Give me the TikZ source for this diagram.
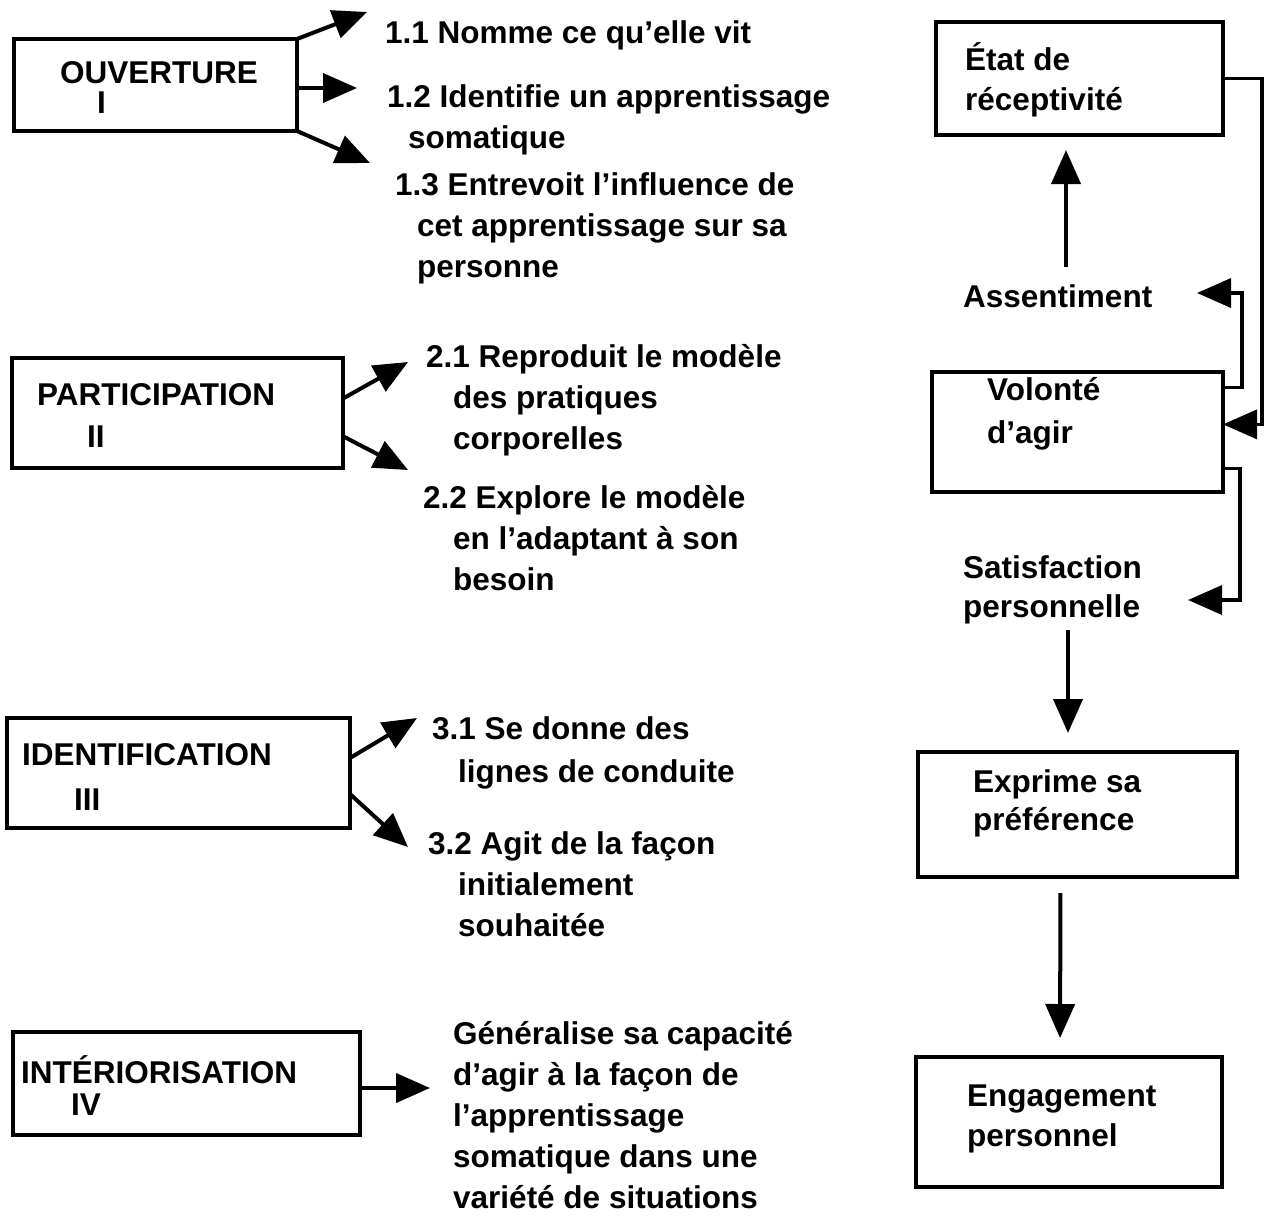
\documentclass[tikz,border=0pt]{standalone}
\usepackage{fontspec}
\setmainfont{Liberation Sans}
\usetikzlibrary{arrows.meta}
\begin{document}
\begin{tikzpicture}[x=1pt,y=-1pt,
  box/.style={draw, line width=4pt, inner sep=0pt, outer sep=0pt},
  txt/.style={font=\bfseries\fontsize{31.5}{41}\selectfont, inner sep=0pt, align=left, anchor=base west},
  rtxt/.style={font=\bfseries\fontsize{31.5}{40}\selectfont, inner sep=0pt, align=left, anchor=base west},
  arr/.style={line width=4pt, -{Triangle[length=34pt,width=29pt]}},
  loopline/.style={line width=3.5pt, -{Triangle[length=34pt,width=29pt]}}]
\useasboundingbox (0,0) rectangle (1272,1229);

% ---------- left column boxes ----------
\node[box, minimum width=283pt, minimum height=92pt] (ouv) at (155.5,85) {};
\node[txt] (ouvt) at (60,83) {OUVERTURE};
\node[txt] (ouvn) at (97,113) {I};

\node[box, minimum width=331pt, minimum height=110pt] (par) at (177.5,413) {};
\node[txt] (part) at (37,405) {PARTICIPATION};
\node[txt] (parn) at (87,447) {II};

\node[box, minimum width=343pt, minimum height=110pt] (idn) at (178.5,773) {};
\node[txt] (idnt) at (22,765) {IDENTIFICATION};
\node[txt] (idnn) at (74,810) {III};

\node[box, minimum width=347pt, minimum height=103pt] (int) at (186.5,1083.5) {};
\node[txt] (intt) at (21,1083) {INTÉRIORISATION};
\node[txt] (intn) at (71,1115) {IV};

% ---------- left column texts (anchor = baseline of the last line) ----------
\node[txt] (t11) at (385,43) {1.1 Nomme ce qu’elle vit};
\node[txt] (t12) at (387,148) {1.2 Identifie un apprentissage\\\hspace*{21pt}somatique};
\node[txt] (t13) at (395,277) {1.3 Entrevoit l’influence de\\\hspace*{22pt}cet apprentissage sur sa\\\hspace*{22pt}personne};

\node[txt] (t21) at (426,449) {2.1 Reproduit le modèle\\\hspace*{27pt}des pratiques\\\hspace*{27pt}corporelles};
\node[txt] (t22) at (423,590) {2.2 Explore le modèle\\\hspace*{30pt}en l’adaptant à son\\\hspace*{30pt}besoin};

\node[txt, font=\bfseries\fontsize{31.5}{43}\selectfont] (t31) at (432,782) {3.1 Se donne des\\\hspace*{26pt}lignes de conduite};
\node[txt] (t32) at (428,936) {3.2 Agit de la façon\\\hspace*{30pt}initialement\\\hspace*{30pt}souhaitée};

\node[txt, font=\bfseries\fontsize{31.5}{41}\selectfont] (t4) at (453,1208) {Généralise sa capacité\\d’agir à la façon de\\l’apprentissage\\somatique dans une\\variété de situations};

% ---------- left column arrows ----------
\coordinate (c11) at (367,12);
\coordinate (c12) at (357,88);
\coordinate (c13) at (370,163);
\draw[arr] (ouv.north east) -- (c11);
\draw[arr] (ouv.east |- c12) -- (c12);
\draw[arr] (ouv.south east) -- (c13);

\coordinate (c21) at (408,362);
\coordinate (c22) at (408,470);
\draw[arr] (par.5) -- (c21);
\draw[arr] (par.-8) -- (c22);

\coordinate (c31) at (417,718);
\coordinate (c32) at (408,847);
\draw[arr] (idn.5) -- (c31);
\draw[arr] (idn.-7) -- (c32);

\coordinate (c4) at (430,1088);
\draw[arr] (int.east |- c4) -- (c4);

% ---------- right column ----------
\node[box, minimum width=287pt, minimum height=113pt] (etat) at (1079.5,78.5) {};
\node[rtxt] (etatt) at (965,110) {État de\\réceptivité};

\node[rtxt] (assent) at (963,307) {Assentiment};

\node[box, minimum width=291pt, minimum height=120pt] (vol) at (1077.5,432) {};
\node[rtxt, font=\bfseries\fontsize{31.5}{43}\selectfont] (volt) at (987,443) {Volonté\\d’agir};

\node[rtxt, font=\bfseries\fontsize{31.5}{39}\selectfont] (satis) at (963,617) {Satisfaction\\personnelle};

\node[box, minimum width=319pt, minimum height=125pt] (expr) at (1077.5,814.5) {};
\node[rtxt, font=\bfseries\fontsize{31.5}{38}\selectfont] (exprt) at (973,830) {Exprime sa\\préférence};

\node[box, minimum width=306pt, minimum height=130pt] (eng) at (1069,1122) {};
\node[rtxt, font=\bfseries\fontsize{31.5}{40}\selectfont] (engt) at (967,1146) {Engagement\\personnel};

% vertical arrows
\coordinate (u1) at (1066,267);
\draw[arr, shorten >=15pt] (u1) -- (etat.south -| u1);

\coordinate (d1) at (1068,630);
\draw[arr, shorten >=19pt] (d1) -- (expr.north -| d1);

\draw[arr, shorten <=16pt, shorten >=19pt] ([xshift=-17pt]expr.south) -- ([xshift=-9pt]eng.north);

% loops
\draw[loopline] (etat.east) -- ++(39,0) |- (vol.3);
\coordinate (cas) at (1197,293);
\draw[loopline] (vol.17) -- ++(19,0) |- (cas);
\coordinate (csat) at (1188,600);
\draw[loopline] (vol.-14) -- ++(17,0) |- (csat);

\end{tikzpicture}
\end{document}
